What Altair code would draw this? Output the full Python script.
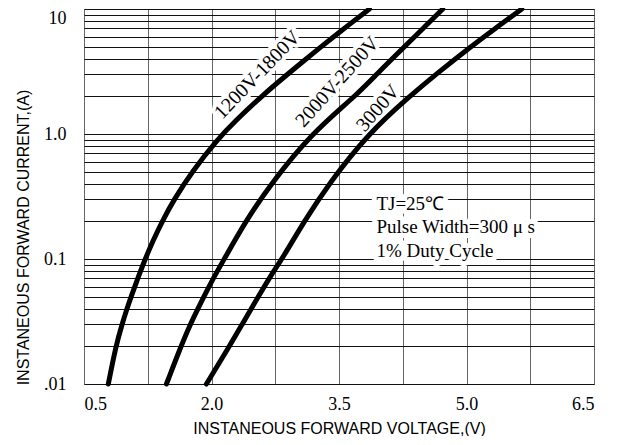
import altair as alt
import pandas as pd

# ---- data (V = forward voltage, I = forward current) ----
series_names = ["1200V-1800V", "2000V-2500V", "3000V"]

v_1200 = [0.786, 0.874, 0.947, 1.006, 1.054, 1.139, 1.22, 1.316, 1.42, 1.56, 1.771, 2.065, 2.288, 2.588, 2.858, 3.289, 3.561, 3.858]
i_1200 = [0.01, 0.02, 0.03, 0.04, 0.05, 0.072, 0.1, 0.142, 0.2, 0.3, 0.5, 0.9, 1.29, 2.0, 2.87, 5.0, 7.0, 10.0]

v_2000 = [1.47, 1.64, 1.75, 1.84, 1.91, 2.03, 2.15, 2.40, 2.70, 3.17, 3.69, 3.94, 4.27, 4.49, 4.72]
i_2000 = [0.01, 0.02, 0.03, 0.04, 0.05, 0.072, 0.1, 0.2, 0.4, 1.0, 2.0, 3.0, 5.0, 7.0, 10.0]

v_3000 = [1.94, 2.21, 2.36, 2.55, 2.73, 2.83, 3.09, 3.38, 3.84, 4.33, 4.64, 5.05, 5.34, 5.65]
i_3000 = [0.01, 0.02, 0.03, 0.05, 0.08, 0.1, 0.2, 0.4, 1.0, 2.0, 3.0, 5.0, 7.0, 10.0]

x_ticks = [0.5, 1.25, 2.0, 2.75, 3.5, 4.25, 5.0, 5.75, 6.5]
y_ticks = [0.01, 0.02, 0.03, 0.04, 0.05, 0.06, 0.07, 0.08, 0.09,
           0.1, 0.2, 0.3, 0.4, 0.5, 0.6, 0.7, 0.8, 0.9,
           1, 2, 3, 4, 5, 6, 7, 8, 9, 10]

label_text = ["1200V-1800V", "2000V-2500V", "3000V"]
label_v = [2.54, 3.48, 3.96]
label_i = [2.97, 2.61, 1.61]

note_text = ["TJ=25\u2103", "Pulse Width=300 \u03bc s", "1% Duty Cycle"]
note_v = [3.94, 3.94, 3.94]
note_i = [0.247, 0.161, 0.104]

x_title = "INSTANEOUS FORWARD VOLTAGE,(V)"
y_title = "INSTANEOUS FORWARD CURRENT,(A)"

# ---- tables ----
rows = []
for name, vs, cs in zip(series_names, [v_1200, v_2000, v_3000], [i_1200, i_2000, i_3000]):
    for v, c in zip(vs, cs):
        rows.append({"series": name, "V": v, "I": c})
curves = pd.DataFrame(rows)
notes = pd.DataFrame({"text": note_text, "V": note_v, "I": note_i})

x_enc = alt.X(
    "V:Q",
    scale=alt.Scale(domain=[0.5, 6.5], nice=False, zero=False),
    axis=alt.Axis(
        values=x_ticks,
        labelExpr="(datum.value - 0.5) % 1.5 == 0 ? format(datum.value, '.1f') : ''",
        title=x_title,
        labelPadding=11,
        titlePadding=7,
        gridColor="#666666",
    ),
)
y_enc = alt.Y(
    "I:Q",
    scale=alt.Scale(type="log", domain=[0.01, 10], nice=False),
    axis=alt.Axis(
        values=y_ticks,
        labelExpr="datum.value == 10 ? '10' : datum.value == 1 ? '1.0' : datum.value == 0.1 ? '0.1' : datum.value == 0.01 ? '.01' : ''",
        title=y_title,
        labelPadding=18,
        titlePadding=12,
        titleY=228,
        gridColor="#111111",
        labelBaseline={"condition": {"test": "datum.value >= 9", "value": "top"}, "value": "middle"},
    ),
)

layers = []

# white halos behind labels (hide grid lines like the reference's label boxes)
angles = [314, 312, 311]
for t, v, c, a in zip(label_text, label_v, label_i, angles):
    d = pd.DataFrame({"text": [t], "V": [v], "I": [c]})
    layers.append(
        alt.Chart(d).mark_text(font="Liberation Serif", fontSize=20, angle=a, align="center",
                               baseline="middle", fill="white", stroke="white", strokeWidth=8,
                               strokeJoin="round").encode(x=x_enc, y=y_enc, text="text:N")
    )
layers.append(
    alt.Chart(notes).mark_text(font="Liberation Serif", fontSize=19, align="left", baseline="alphabetic",
                               fill="white", stroke="white", strokeWidth=10, strokeJoin="round")
    .encode(x=x_enc, y=y_enc, text="text:N")
)

# curves
layers.append(
    alt.Chart(curves).mark_line(color="black", strokeWidth=5, strokeCap="round", strokeJoin="round",
                                interpolate="basis")
    .encode(x=x_enc, y=y_enc, detail="series:N", order="V:Q")
)

# label texts
for t, v, c, a in zip(label_text, label_v, label_i, angles):
    d = pd.DataFrame({"text": [t], "V": [v], "I": [c]})
    layers.append(
        alt.Chart(d).mark_text(font="Liberation Serif", fontSize=20, angle=a, align="center",
                               baseline="middle", color="black").encode(x=x_enc, y=y_enc, text="text:N")
    )
layers.append(
    alt.Chart(notes).mark_text(font="Liberation Serif", fontSize=19, align="left", baseline="alphabetic",
                               color="black").encode(x=x_enc, y=y_enc, text="text:N")
)

chart = (
    alt.layer(*layers)
    .properties(width=510, height=375, autosize=alt.AutoSizeParams(type="none"),
                padding={"left": 76, "top": 1, "right": 16, "bottom": 52})
    .configure_view(stroke="#666666")
    .configure_axis(
        labelFont="Liberation Serif", labelFontSize=18, labelColor="black",
        titleFont="Liberation Sans", titleFontSize=16, titleFontWeight="normal", titleColor="black",
        domain=False, ticks=False, grid=True, gridWidth=1, gridOpacity=1,
    )
)

chart.save("out.html", embed_options={"renderer": "svg", "actions": False})
